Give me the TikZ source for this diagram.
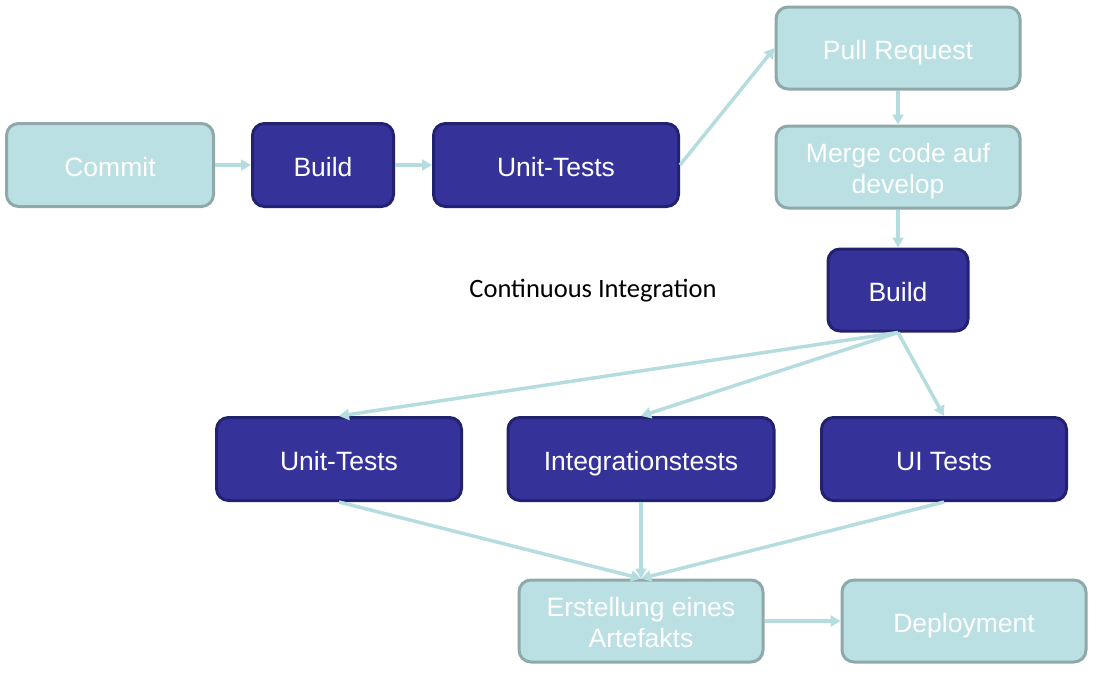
\documentclass[tikz,border=0pt]{standalone}
\usepackage{fontspec}
\setmainfont{Liberation Sans}
\newfontfamily\calibrifont{Carlito}
\usetikzlibrary{arrows.meta}
\definecolor{lightfill}{HTML}{BAE0E3}
\definecolor{lightborder}{HTML}{8FA8AA}
\definecolor{darkfill}{HTML}{35339A}
\definecolor{darkborder}{HTML}{232270}
\definecolor{arrowcol}{HTML}{B5DDE0}
\tikzset{
  boxbase/.style={draw, line width=3pt, rounded corners=12pt, text=white, align=center,
    font=\fontsize{26.5}{31}\selectfont, inner sep=0pt, text height=22pt, text depth=0pt},
  twoline/.style={text height=52pt, text depth=0pt},
  lightbox/.style={boxbase, fill=lightfill, draw=lightborder},
  darkbox/.style={boxbase, fill=darkfill, draw=darkborder},
  conn/.style={draw=arrowcol, line width=3.5pt, -{Triangle[length=10pt,width=11pt]}},
}
\begin{document}
\begin{tikzpicture}[x=1pt,y=-1pt]
\useasboundingbox (0,0) rectangle (1098,673);
\node[lightbox, minimum width=207pt, minimum height=83pt] (commit) at (110,165) {Commit};
\node[darkbox, minimum width=141pt, minimum height=83pt] (build1) at (323,165) {Build};
\node[darkbox, minimum width=245pt, minimum height=83pt] (unit1) at (556,165) {Unit-Tests};
\node[lightbox, minimum width=244pt, minimum height=82pt] (pull) at (898,48) {Pull Request};
\node[lightbox, twoline, minimum width=244pt, minimum height=82pt] (merge) at (898,167) {Merge code auf\\develop};
\node[darkbox, minimum width=140pt, minimum height=82pt] (build2) at (898,290) {Build};
\node[darkbox, minimum width=245pt, minimum height=83pt] (unit2) at (339,459) {Unit-Tests};
\node[darkbox, minimum width=266pt, minimum height=83pt] (integ) at (641,459) {Integrationstests};
\node[darkbox, minimum width=245pt, minimum height=83pt] (ui) at (944,459) {UI Tests};
\node[lightbox, twoline, minimum width=244pt, minimum height=82pt] (erst) at (641,621) {Erstellung eines\\Artefakts};
\node[lightbox, minimum width=244pt, minimum height=82pt] (deploy) at (964,621) {Deployment};
\node[font=\calibrifont\fontsize{26.5}{30}\selectfont, text=black] (label) at (593,291) {Continuous Integration};
\draw[conn] (commit.east) -- (build1.west);
\draw[conn] (build1.east) -- (unit1.west);
\draw[conn] (unit1.east) -- (pull.west);
\draw[conn] (pull.south) -- (merge.north);
\draw[conn] (merge.south) -- (build2.north);
\draw[conn] (build2.south) -- (unit2.north);
\draw[conn] (build2.south) -- (integ.north);
\draw[conn] (build2.south) -- (ui.north);
\draw[conn] (unit2.south) -- (erst.north);
\draw[conn] (integ.south) -- (erst.north);
\draw[conn] (ui.south) -- (erst.north);
\draw[conn] (erst.east) -- (deploy.west);
\end{tikzpicture}
\end{document}
